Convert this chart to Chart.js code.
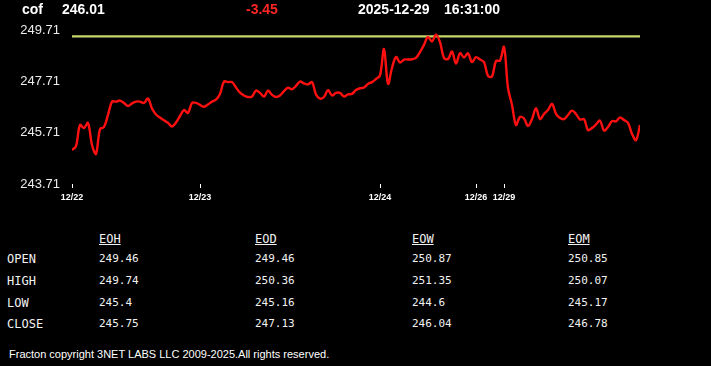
<!DOCTYPE html>
<html>
<head>
<meta charset="utf-8">
<script src="https://cdn.jsdelivr.net/npm/chart.js@4.4.1/dist/chart.umd.min.js"></script>
<style>
  html, body { margin: 0; padding: 0; background: #000; width: 711px; height: 366px; overflow: hidden; }
  body { position: relative; color: #fff; }
  #c { position: absolute; left: 0; top: 0; }
  .hd { position: absolute; top: 2px; font: bold 14px "Liberation Sans", Arial, sans-serif; line-height: 14px; color: #fff; white-space: nowrap; }
  .cell { position: absolute; font-family: "DejaVu Sans Mono", monospace; color: #f2f2f2; line-height: 14px; white-space: nowrap; }
  .lab { font-size: 12px; }
  .num { font-size: 11px; }
  .colh { font-size: 12px; text-decoration: underline; }
  #foot { position: absolute; left: 9px; top: 348px; font: 11px "Liberation Sans", Arial, sans-serif; line-height: 12px; color: #fff; white-space: nowrap; }
</style>
</head>
<body>
<canvas id="c" width="711" height="215"></canvas>
<div id="header"></div>
<div id="table"></div>
<div id="foot">Fracton copyright 3NET LABS LLC 2009-2025.All rights reserved.</div>
<script>
// ---- data ----
const symbol = "cof";
const lastPrice = "246.01";
const change = "-3.45";
const dateText = "2025-12-29";
const timeText = "16:31:00";

const refLine = 249.46;
const yTicks = [243.71, 245.71, 247.71, 249.71];
const xTickIndex = [0, 32, 77, 101, 108];
const xTickLabels = ["12/22", "12/23", "12/24", "12/26", "12/29"];

const prices = [
  245.03, 245.19, 246.01, 245.89, 246.09, 245.23, 244.88, 245.85, 245.93, 246.40,
  246.92, 246.92, 246.96, 246.87, 246.75, 246.85, 246.92, 246.92, 246.87, 247.04,
  246.65, 246.42, 246.30, 246.19, 246.09, 245.95, 246.11, 246.36, 246.59, 246.48,
  246.87, 246.87, 246.79, 246.72, 246.81, 246.92, 247.00, 247.22, 247.70, 247.68,
  247.68, 247.47, 247.27, 247.16, 247.10, 247.12, 247.35, 247.26, 247.12, 247.35,
  247.18, 247.10, 247.16, 247.33, 247.46, 247.40, 247.53, 247.70, 247.63, 247.59,
  247.68, 247.20, 247.04, 247.10, 247.37, 247.16, 247.26, 247.26, 247.12, 247.20,
  247.22, 247.37, 247.44, 247.47, 247.61, 247.68, 247.80, 247.94, 248.97, 247.61,
  248.23, 248.66, 248.44, 248.56, 248.56, 248.57, 248.62, 248.85, 249.13, 249.44,
  249.26, 249.53, 249.24, 248.62, 248.58, 248.87, 248.40, 248.81, 248.64, 248.80,
  248.46, 248.65, 248.56, 248.46, 247.92, 247.90, 248.50, 248.52, 249.05, 247.45,
  246.79, 246.01, 246.32, 246.26, 245.97, 246.24, 246.66, 246.24, 246.44, 246.59,
  246.83, 246.44, 246.28, 246.24, 246.40, 246.57, 246.44, 246.22, 246.24, 245.81,
  245.89, 246.03, 246.18, 245.79, 245.93, 246.16, 246.15, 246.30, 246.20, 246.09,
  245.66, 245.42, 246.01
];

const tableCols = ["EOH", "EOD", "EOW", "EOM"];
const tableRows = ["OPEN", "HIGH", "LOW", "CLOSE"];
const eoh = ["249.46", "249.74", "245.4", "245.75"];
const eod = ["249.46", "250.36", "245.16", "247.13"];
const eow = ["250.87", "251.35", "244.6", "246.04"];
const eom = ["250.85", "250.07", "245.17", "246.78"];

// ---- header ----
const header = document.getElementById('header');
[[symbol, 22, '#fff'], [lastPrice, 62, '#fff'], [change, 246, '#ff2626'], [dateText, 358, '#fff'], [timeText, 444, '#fff']]
  .forEach(([t, x, col]) => {
    const d = document.createElement('div');
    d.className = 'hd'; d.textContent = t; d.style.left = x + 'px'; d.style.color = col;
    header.appendChild(d);
  });

// ---- table ----
const table = document.getElementById('table');
const colX = [99, 255, 412, 568];
const rowY = [259, 280.5, 302.5, 324];
const colData = [eoh, eod, eow, eom];
function addCell(text, cls, x, yc) {
  const d = document.createElement('div');
  d.className = 'cell ' + cls; d.textContent = text;
  d.style.left = x + 'px'; d.style.top = (yc - 7) + 'px';
  table.appendChild(d);
}
tableCols.forEach((c, j) => addCell(c, 'colh', colX[j], 238.5));
tableRows.forEach((r, i) => {
  addCell(r, 'lab', 7, rowY[i]);
  colData.forEach((col, j) => addCell(col[i], 'num', colX[j], rowY[i]));
});

// ---- chart ----
const pts = prices.map((v, i) => ({ x: i, y: v }));
const refPts = prices.map((v, i) => ({ x: i, y: refLine }));

new Chart(document.getElementById('c'), {
  type: 'line',
  data: {
    datasets: [
      { data: pts, borderColor: '#ff1010', borderWidth: 2.4, pointRadius: 0, tension: 0.35, fill: false },
      { data: refPts, borderColor: '#c9d76a', borderWidth: 2.4, pointRadius: 0, tension: 0, fill: false }
    ]
  },
  options: {
    responsive: false,
    animation: false,
    devicePixelRatio: 1,
    layout: { padding: { top: 30, right: 71, left: 0, bottom: 0 } },
    plugins: { legend: { display: false }, tooltip: { enabled: false } },
    scales: {
      x: {
        type: 'linear',
        min: 0,
        max: prices.length - 1,
        afterBuildTicks: (s) => { s.ticks = xTickIndex.map(v => ({ value: v })); },
        afterFit: (s) => { s.height = 31; },
        grid: { display: true, drawOnChartArea: false, drawTicks: true, tickLength: 4, color: '#ffffff', lineWidth: 1 },
        border: { display: false },
        ticks: {
          autoSkip: false, maxRotation: 0, padding: 4, color: '#ffffff',
          font: { family: '"Liberation Sans", Arial, sans-serif', size: 9, weight: 'bold' },
          callback: (v) => { const k = xTickIndex.indexOf(v); return k >= 0 ? xTickLabels[k] : null; }
        }
      },
      y: {
        min: yTicks[0],
        max: yTicks[yTicks.length - 1],
        afterBuildTicks: (s) => { s.ticks = yTicks.map(v => ({ value: v })); },
        afterFit: (s) => { s.width = 72; },
        grid: { display: false, drawTicks: false },
        border: { display: false },
        ticks: {
          padding: 12, color: '#ececec',
          font: { family: '"Liberation Sans", Arial, sans-serif', size: 13 },
          callback: (v) => Number(v).toFixed(2)
        }
      }
    }
  }
});
</script>
</body>
</html>
